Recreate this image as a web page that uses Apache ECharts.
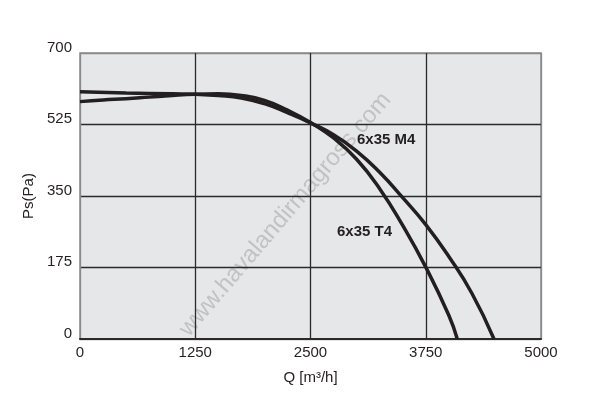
<!DOCTYPE html>
<html>
<head>
<meta charset="utf-8">
<script src="https://cdn.jsdelivr.net/npm/echarts@6/dist/echarts.min.js"></script>
<style>
  html, body { margin: 0; padding: 0; background: #fff; }
  #chart { width: 596px; height: 420px; }
</style>
</head>
<body>
<div id="chart"></div>
<script>
// fan curves: Q [m3/h] -> Ps [Pa]
var m4Q  = [0, 500, 1000, 1250, 1500, 1750, 2000, 2250, 2500, 2750, 3000, 3250, 3500, 3750, 4000, 4250, 4490];
var m4Ps = [605, 602, 600, 599, 596, 590, 576, 554, 529, 500, 460, 408, 346, 280, 202, 112, 0];
var t4Q  = [0, 250, 500, 750, 1000, 1250, 1500, 1750, 2000, 2250, 2500, 2750, 3000, 3250, 3500, 3750, 4000, 4092];
var t4Ps = [581, 585, 588, 592, 596, 599, 600, 596, 584, 560, 530, 492, 440, 368, 278, 176, 58, 0];
var xTicks = [0, 1250, 2500, 3750, 5000];
var yTicks = [0, 175, 350, 525, 700];

function pairs(xs, ys) {
  return xs.map(function (x, i) { return [x, ys[i]]; });
}

var font = 'Liberation Sans, Arial, sans-serif';
var edge = ['#8a8a8a', '#2a2a2a', '#2a2a2a', '#2a2a2a', '#8a8a8a'];

var chart = echarts.init(document.getElementById('chart'), null, { renderer: 'canvas' });
chart.setOption({
  animation: false,
  backgroundColor: '#fff',
  grid: {
    left: 80, right: 55, top: 53, bottom: 81,
    show: true,
    backgroundColor: '#e6e7e8',
    borderColor: '#8a8a8a',
    borderWidth: 1.5
  },
  xAxis: {
    type: 'value',
    min: xTicks[0], max: xTicks[xTicks.length - 1], interval: 1250,
    name: 'Q [m³/h]',
    nameLocation: 'middle',
    nameGap: 31,
    nameTextStyle: { fontFamily: font, fontSize: 15, color: '#231f20' },
    axisLine: { show: true, lineStyle: { color: '#2a2a2a', width: 2 } },
    axisTick: { show: false },
    axisLabel: {
      fontFamily: font, fontSize: 15, color: '#231f20', margin: 6,
      formatter: function (v) { return String(v); }
    },
    splitLine: { show: true, lineStyle: { color: edge, width: 1.3 } }
  },
  yAxis: {
    type: 'value',
    min: yTicks[0], max: yTicks[yTicks.length - 1], interval: 175,
    name: 'Ps(Pa)',
    nameLocation: 'middle',
    nameGap: 32,
    nameTextStyle: { fontFamily: font, fontSize: 15, color: '#231f20' },
    axisLine: { show: false },
    axisTick: { show: false },
    axisLabel: {
      fontFamily: font, fontSize: 15, color: '#231f20', margin: 8,
      verticalAlign: 'bottom', lineHeight: 11,
      formatter: function (v) { return String(v); }
    },
    splitLine: { show: true, lineStyle: { color: edge, width: 1.3 } }
  },
  series: [
    {
      name: '6x35 M4',
      type: 'line',
      smooth: true,
      symbol: 'none',
      lineStyle: { color: '#231f20', width: 3.5 },
      data: pairs(m4Q, m4Ps)
    },
    {
      name: '6x35 T4',
      type: 'line',
      smooth: true,
      symbol: 'none',
      lineStyle: { color: '#231f20', width: 3.5 },
      data: pairs(t4Q, t4Ps)
    }
  ],
  graphic: [
    {
      type: 'text', x: 193, y: 341, rotation: Math.PI * 49.5 / 180, z: 0,
      style: {
        text: 'www.havalandirmagross.com', fill: 'rgba(140,140,140,0.4)',
        font: '24px ' + font, textAlign: 'left', textVerticalAlign: 'bottom'
      }
    },
    {
      type: 'text', left: 357, top: 132, z: 10,
      style: { text: '6x35 M4', fill: '#231f20', font: 'bold 15px ' + font }
    },
    {
      type: 'text', left: 337, top: 224, z: 10,
      style: { text: '6x35 T4', fill: '#231f20', font: 'bold 15px ' + font }
    }
  ]
});
</script>
</body>
</html>
